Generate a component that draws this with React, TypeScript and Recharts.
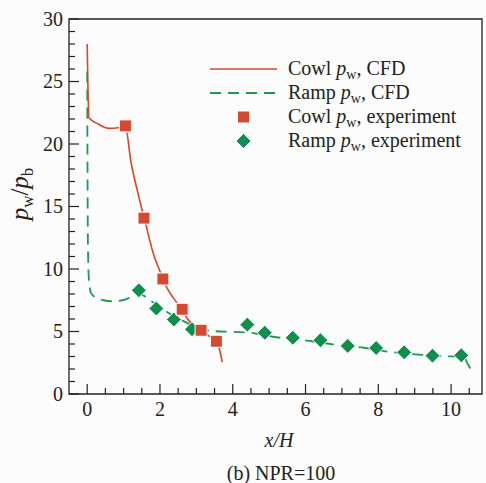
import React from "react";
import { ComposedChart, Line, Scatter, XAxis, YAxis, ReferenceArea } from "recharts";

// CFD wall pressure along the cowl and ramp
const cowlCfdX = [0, 0.02, 0.05, 0.3, 0.6, 0.85, 1.05, 1.2, 1.4, 1.6, 1.8, 2.0, 2.2, 2.5, 2.8, 3.1, 3.4, 3.55, 3.65, 3.71];
const cowlCfdY = [28.0, 24.5, 22.1, 21.6, 21.25, 21.3, 21.4, 18.6, 16.0, 13.7, 11.4, 9.8, 8.45, 7.15, 5.85, 5.1, 4.53, 4.15, 3.4, 2.55];

const rampCfdX = [0, 0.02, 0.05, 0.11, 0.25, 0.45, 0.7, 1.0, 1.2, 1.42, 1.6, 1.8, 2.1, 2.4, 2.7, 3.0, 3.4, 4.0, 4.5, 5.1, 5.6, 6.2, 6.9, 7.6, 8.3, 9.1, 9.9, 10.35, 10.45, 10.58];
const rampCfdY = [25.8, 12.0, 9.0, 8.05, 7.7, 7.5, 7.42, 7.52, 7.75, 8.0, 7.8, 7.35, 6.75, 6.2, 5.75, 5.3, 5.05, 4.97, 4.9, 4.58, 4.4, 4.22, 3.9, 3.7, 3.38, 3.15, 3.02, 2.96, 2.45, 1.76];

// measured wall pressure
const cowlExpX = [1.05, 1.56, 2.08, 2.61, 3.13, 3.55];
const cowlExpY = [21.45, 14.07, 9.2, 6.78, 5.1, 4.22];

const rampExpX = [1.42, 1.9, 2.38, 2.88, 4.4, 4.88, 5.65, 6.41, 7.16, 7.94, 8.71, 9.49, 10.28];
const rampExpY = [8.3, 6.84, 5.96, 5.18, 5.55, 4.9, 4.5, 4.3, 3.85, 3.68, 3.34, 3.07, 3.1];

const xMajor = [0, 2, 4, 6, 8, 10];
const xTicks = [0, 0.5, 1, 1.5, 2, 2.5, 3, 3.5, 4, 4.5, 5, 5.5, 6, 6.5, 7, 7.5, 8, 8.5, 9, 9.5, 10, 10.5];
const yMajor = [0, 5, 10, 15, 20, 25, 30];
const yTicks = [0, 1, 2, 3, 4, 5, 6, 7, 8, 9, 10, 11, 12, 13, 14, 15, 16, 17, 18, 19, 20, 21, 22, 23, 24, 25, 26, 27, 28, 29, 30];

const zip = (xs: number[], ys: number[]) => xs.map((x, i) => ({ x, y: ys[i] }));

const cowlCfd = zip(cowlCfdX, cowlCfdY);
const rampCfd = zip(rampCfdX, rampCfdY);
const cowlExp = zip(cowlExpX, cowlExpY);
const rampExp = zip(rampExpX, rampExpY);

const RED = "#d4482c";
const RED_MARK = "#d34a30";
const GREEN = "#1f9a55";
const GREEN_MARK = "#0f8e4e";
const INK = "#222";
const FONT = "'Liberation Serif', 'Times New Roman', serif";
const FS = 20;

const SquareMark = (props: any) => {
  const { cx, cy } = props;
  return <rect x={cx - 6} y={cy - 6} width={12} height={12} fill={RED_MARK} stroke="#fff" strokeWidth={1} />;
};

const DiamondMark = (props: any) => {
  const { cx, cy } = props;
  const r = 7.5;
  return (
    <polygon
      points={`${cx},${cy - r} ${cx + r},${cy} ${cx},${cy + r} ${cx - r},${cy}`}
      fill={GREEN_MARK}
      stroke="#fff"
      strokeWidth={1}
    />
  );
};

// inward-pointing ticks, longer on labelled values
const XTick = (props: any) => {
  const { x, y, payload } = props;
  const major = xMajor.includes(payload.value);
  return (
    <g>
      <line x1={x} x2={x} y1={y} y2={y - (major ? 10 : 6)} stroke={INK} strokeWidth={1.2} />
      {major && (
        <text x={x} y={y + 22} textAnchor="middle" fontFamily={FONT} fontSize={FS} fill={INK}>
          {payload.value}
        </text>
      )}
    </g>
  );
};

const YTick = (props: any) => {
  const { x, y, payload } = props;
  const major = yMajor.includes(payload.value);
  return (
    <g>
      <line x1={x} x2={x + (major ? 10 : 6)} y1={y} y2={y} stroke={INK} strokeWidth={1.2} />
      {major && (
        <text x={x - 6} y={y + 6.5} textAnchor="end" fontFamily={FONT} fontSize={FS} fill={INK}>
          {payload.value}
        </text>
      )}
    </g>
  );
};

const legendRows = [
  { name: "Cowl", tail: ", CFD", kind: "solid" },
  { name: "Ramp", tail: ", CFD", kind: "dash" },
  { name: "Cowl", tail: ", experiment", kind: "square" },
  { name: "Ramp", tail: ", experiment", kind: "diamond" },
];

export default function App() {
  return (
    <div style={{ position: "absolute", left: 0, top: 0, width: 486, height: 483, background: "#fcfcfc" }}>
      <ComposedChart width={486} height={483} margin={{ top: 19, right: 4, left: 0, bottom: 0 }}>
        <XAxis
          dataKey="x"
          type="number"
          domain={[-0.5, 10.85]}
          ticks={xTicks}
          interval={0}
          height={89}
          tickSize={0}
          tickMargin={0}
          axisLine={false}
          tickLine={false}
          tick={XTick}
          allowDataOverflow
        />
        <YAxis
          dataKey="y"
          type="number"
          domain={[0, 30]}
          ticks={yTicks}
          interval={0}
          width={69}
          tickSize={0}
          tickMargin={0}
          axisLine={false}
          tickLine={false}
          tick={YTick}
          allowDataOverflow
        />
        <ReferenceArea x1={-0.5} x2={10.85} y1={0} y2={30} fill="none" stroke={INK} strokeWidth={1.3} ifOverflow="visible" />
        <Line data={rampCfd} dataKey="y" type="monotone" stroke={GREEN} strokeWidth={1.8} strokeDasharray="11 7" dot={false} isAnimationActive={false} />
        <Line data={cowlCfd} dataKey="y" type="monotone" stroke={RED} strokeWidth={1.6} dot={false} isAnimationActive={false} />
        <Scatter data={rampExp} dataKey="y" shape={DiamondMark} isAnimationActive={false} />
        <Scatter data={cowlExp} dataKey="y" shape={SquareMark} isAnimationActive={false} />

        {/* legend */}
        {legendRows.map((row, i) => {
          const cy = 69 + i * 24;
          return (
            <g key={i}>
              {row.kind === "solid" && <line x1={210} x2={277} y1={cy} y2={cy} stroke={RED} strokeWidth={1.6} />}
              {row.kind === "dash" && <line x1={210} x2={277} y1={cy} y2={cy} stroke={GREEN} strokeWidth={1.8} strokeDasharray="11 7" />}
              {row.kind === "square" && <SquareMark cx={243.5} cy={cy} />}
              {row.kind === "diamond" && <DiamondMark cx={243.5} cy={cy} />}
              <text x={288} y={cy + 6} fontFamily={FONT} fontSize={FS} fill={INK}>
                {row.name} <tspan fontStyle="italic">p</tspan>
                <tspan fontSize={14} dy={4}>w</tspan>
                <tspan dy={-4}>{row.tail}</tspan>
              </text>
            </g>
          );
        })}

        {/* axis titles and caption */}
        <text x={279} y={447} textAnchor="middle" fontFamily={FONT} fontSize={FS} fontStyle="italic" fill={INK}>
          x/H
        </text>
        <text x={281} y={480} textAnchor="middle" fontFamily={FONT} fontSize={FS} fill={INK}>
          (b) NPR=100
        </text>
        <text transform="translate(28,194) rotate(-90)" textAnchor="middle" fontFamily={FONT} fontSize={25} fill={INK}>
          <tspan fontStyle="italic">p</tspan>
          <tspan fontSize={17} dy={5}>w</tspan>
          <tspan dy={-5}>/</tspan>
          <tspan fontStyle="italic">p</tspan>
          <tspan fontSize={17} dy={5}>b</tspan>
        </text>
      </ComposedChart>
    </div>
  );
}
